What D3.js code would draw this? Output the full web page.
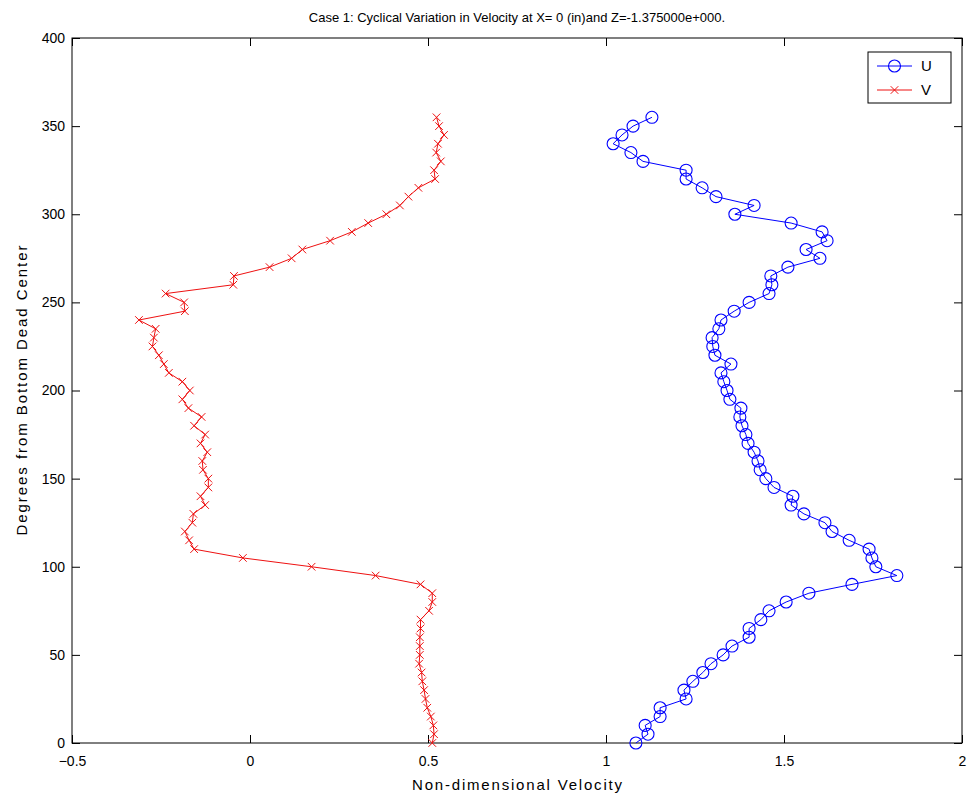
<!DOCTYPE html>
<html>
<head>
<meta charset="utf-8">
<script src="https://cdn.jsdelivr.net/npm/d3@7"></script>
<style>
  body { margin: 0; background: #fff; }
  text { font-family: "Liberation Sans", Arial, sans-serif; fill: #000; }
</style>
</head>
<body>
<svg id="chart" width="973" height="797"></svg>
<script>
// Crank angle (degrees from bottom dead center), every 5 degrees
const degrees = d3.range(0, 360, 5);

// Non-dimensional U velocity at each angle
const uValues = [
  1.084, 1.118, 1.110, 1.152, 1.152, 1.225, 1.219, 1.244, 1.272, 1.295,
  1.329, 1.354, 1.402, 1.402, 1.435, 1.458, 1.506, 1.570, 1.691, 1.817,
  1.758, 1.747, 1.739, 1.683, 1.635, 1.615, 1.556, 1.520, 1.525, 1.472,
  1.449, 1.433, 1.427, 1.416, 1.399, 1.393, 1.382, 1.376, 1.379, 1.348,
  1.340, 1.331, 1.323, 1.351, 1.306, 1.300, 1.298, 1.317, 1.323, 1.360,
  1.402, 1.458, 1.466, 1.463, 1.511, 1.601, 1.562, 1.621, 1.607, 1.520,
  1.362, 1.416, 1.309, 1.270, 1.225, 1.225, 1.104, 1.070, 1.020, 1.045,
  1.076, 1.129
];

// Non-dimensional V velocity at each angle
const vValues = [
  0.512, 0.517, 0.515, 0.508, 0.498, 0.493, 0.489, 0.484, 0.482, 0.475,
  0.477, 0.477, 0.477, 0.479, 0.479, 0.503, 0.512, 0.512, 0.479, 0.353,
  0.173, -0.020, -0.157, -0.171, -0.183, -0.162, -0.159, -0.126, -0.139, -0.117,
  -0.117, -0.132, -0.134, -0.120, -0.139, -0.126, -0.157, -0.136, -0.173, -0.190,
  -0.169, -0.190, -0.228, -0.242, -0.256, -0.274, -0.270, -0.265, -0.312, -0.183,
  -0.185, -0.237, -0.047, -0.045, 0.055, 0.117, 0.147, 0.225, 0.286, 0.332,
  0.383, 0.421, 0.445, 0.473, 0.520, 0.517, 0.536, 0.523, 0.528, 0.545,
  0.531, 0.524
];

const xTicks = [-0.5, 0, 0.5, 1, 1.5, 2];
const yTicks = [0, 50, 100, 150, 200, 250, 300, 350, 400];
const seriesNames = ["U", "V"];

const svg = d3.select("#chart");
const plotLeft = 72, plotRight = 962, plotTop = 38, plotBottom = 743;

const x = d3.scaleLinear().domain([-0.5, 2]).range([plotLeft, plotRight]);
const y = d3.scaleLinear().domain([0, 400]).range([plotBottom, plotTop]);

const tickLen = 8;

// Plot frame
svg.append("rect")
  .attr("x", plotLeft).attr("y", plotTop)
  .attr("width", plotRight - plotLeft).attr("height", plotBottom - plotTop)
  .attr("fill", "none").attr("stroke", "#000").attr("stroke-width", 1);

// Bottom axis with inward ticks
const xAxis = svg.append("g").attr("transform", `translate(0,${plotBottom})`)
  .call(d3.axisBottom(x).tickValues(xTicks).tickSizeInner(-tickLen).tickSizeOuter(0)
    .tickPadding(13).tickFormat(d3.format("")));
xAxis.select(".domain").remove();
// Top axis ticks (no labels)
const xTop = svg.append("g").attr("transform", `translate(0,${plotTop})`)
  .call(d3.axisTop(x).tickValues(xTicks).tickSizeInner(-tickLen).tickSizeOuter(0).tickFormat(""));
xTop.select(".domain").remove();

// Left axis with inward ticks
const yAxis = svg.append("g").attr("transform", `translate(${plotLeft},0)`)
  .call(d3.axisLeft(y).tickValues(yTicks).tickSizeInner(-tickLen).tickSizeOuter(0)
    .tickPadding(7));
yAxis.select(".domain").remove();
const yRight = svg.append("g").attr("transform", `translate(${plotRight},0)`)
  .call(d3.axisRight(y).tickValues(yTicks).tickSizeInner(-tickLen).tickSizeOuter(0).tickFormat(""));
yRight.select(".domain").remove();

svg.selectAll(".tick line").attr("stroke", "#000");
svg.selectAll(".tick text").attr("font-size", 14)
  .attr("font-family", "'Liberation Sans', Arial, sans-serif").attr("fill", "#000");

// Title and axis labels
svg.append("text")
  .attr("x", (plotLeft + plotRight) / 2).attr("y", 22)
  .attr("text-anchor", "middle").attr("font-size", 13)
  .text("Case 1: Cyclical Variation in Velocity at X= 0 (in)and Z=-1.375000e+000.");
svg.append("text")
  .attr("x", (plotLeft + plotRight) / 2).attr("y", 790)
  .attr("text-anchor", "middle").attr("font-size", 15)
  .attr("textLength", 210).attr("lengthAdjust", "spacing")
  .text("Non-dimensional Velocity");
svg.append("text")
  .attr("transform", `translate(27,${(plotTop + plotBottom) / 2}) rotate(-90)`)
  .attr("text-anchor", "middle").attr("font-size", 15)
  .attr("textLength", 290).attr("lengthAdjust", "spacing")
  .text("Degrees from Bottom Dead Center");

const uData = degrees.map((d, i) => [uValues[i], d]);
const vData = degrees.map((d, i) => [vValues[i], d]);

const line = d3.line().x(d => x(d[0])).y(d => y(d[1]));

const blue = "#0000ff", red = "#ee1111";

// U series: line with circle markers
svg.append("path").datum(uData)
  .attr("d", line).attr("fill", "none").attr("stroke", blue).attr("stroke-width", 1);
svg.append("g").selectAll("circle").data(uData).join("circle")
  .attr("cx", d => x(d[0])).attr("cy", d => y(d[1])).attr("r", 6)
  .attr("fill", "none").attr("stroke", blue).attr("stroke-width", 1.1);

// V series: line with x markers
const xMark = (cx, cy, s) => `M${cx - s},${cy - s}L${cx + s},${cy + s}M${cx - s},${cy + s}L${cx + s},${cy - s}`;
svg.append("path").datum(vData)
  .attr("d", line).attr("fill", "none").attr("stroke", red).attr("stroke-width", 1);
svg.append("g").selectAll("path").data(vData).join("path")
  .attr("d", d => xMark(x(d[0]), y(d[1]), 3.8))
  .attr("fill", "none").attr("stroke", red).attr("stroke-width", 1);

// Legend
const lg = svg.append("g").attr("transform", "translate(868,52)");
lg.append("rect").attr("width", 83).attr("height", 51)
  .attr("fill", "#fff").attr("stroke", "#000").attr("stroke-width", 1);
[blue, red].forEach((c, i) => {
  const ly = 14 + i * 24;
  lg.append("line").attr("x1", 9).attr("x2", 44).attr("y1", ly).attr("y2", ly)
    .attr("stroke", c).attr("stroke-width", 1);
  if (i === 0) {
    lg.append("circle").attr("cx", 26.5).attr("cy", ly).attr("r", 6)
      .attr("fill", "none").attr("stroke", c).attr("stroke-width", 1.1);
  } else {
    lg.append("path").attr("d", xMark(26.5, ly, 3.8)).attr("fill", "none").attr("stroke", c);
  }
  lg.append("text").attr("x", 53).attr("y", ly + 5).attr("font-size", 15).text(seriesNames[i]);
});
</script>
</body>
</html>
